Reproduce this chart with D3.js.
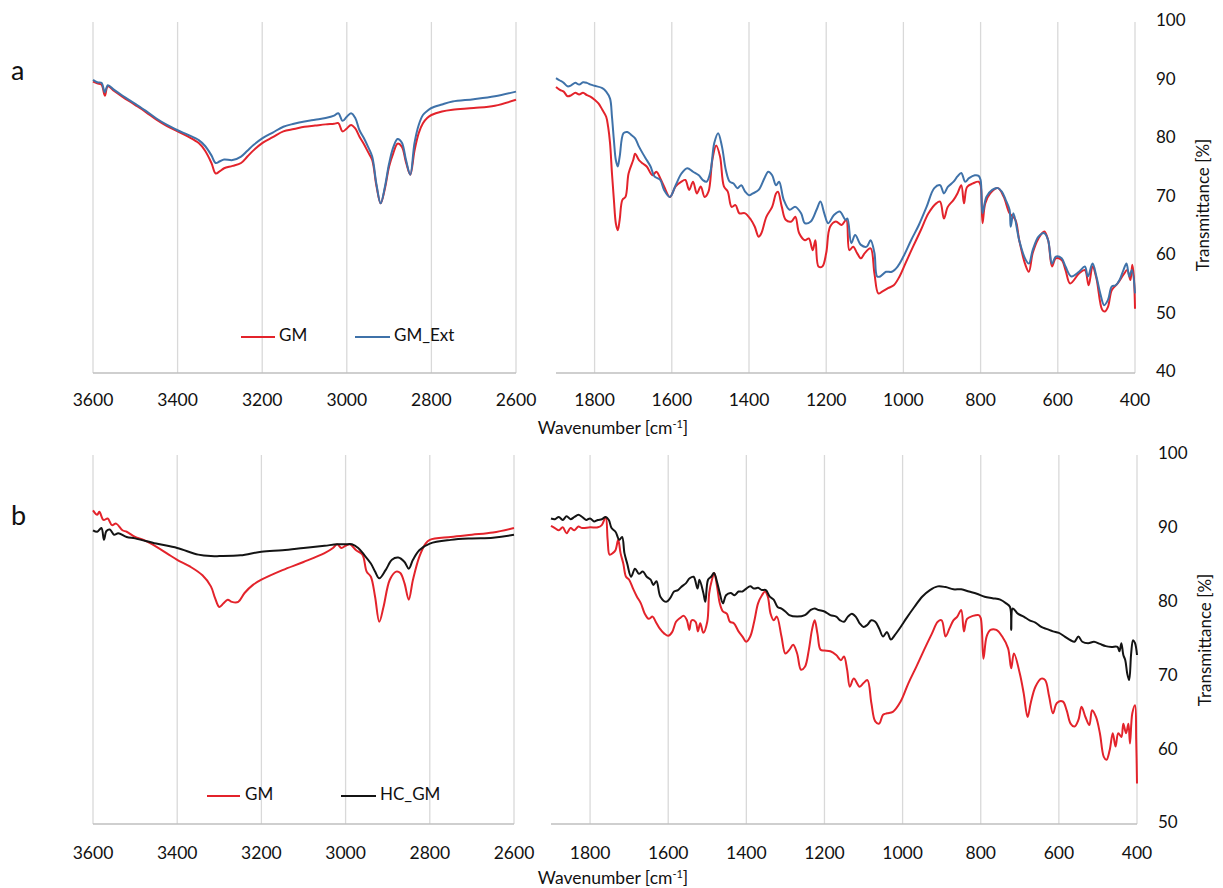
<!DOCTYPE html>
<html>
<head>
<meta charset="utf-8">
<script src="https://cdn.jsdelivr.net/npm/d3@7"></script>
<style>
  body { margin: 0; background: #fff; }
  svg text { font-family: Lato, "Open Sans", sans-serif; fill: #111; }
</style>
</head>
<body>
<svg id="chart" width="1223" height="888"></svg>
<script>
// ---- FTIR spectra: [wavenumber (cm-1), transmittance (%)] ----

// Panel a: GM vs GM_Ext, 3600-2600 region
const aGM_high = [[3600,89.8],[3590,89.5],[3580,89.3],[3572,87.4],[3565,89.0],[3550,88.2],[3530,87.2],[3500,85.8],[3475,84.6],[3450,83.3],[3425,82.2],[3400,81.3],[3375,80.4],[3350,79.3],[3335,78.0],[3320,75.9],[3310,74.1],[3300,74.5],[3290,75.0],[3270,75.4],[3250,75.9],[3235,77.0],[3220,78.1],[3200,79.3],[3175,80.3],[3150,81.3],[3125,81.7],[3100,82.1],[3075,82.3],[3050,82.5],[3030,82.6],[3020,82.7],[3010,81.3],[3000,81.8],[2990,82.4],[2980,81.8],[2970,80.4],[2960,79.2],[2950,77.8],[2940,76.4],[2930,72.0],[2920,69.0],[2910,71.5],[2900,75.3],[2890,77.6],[2880,79.2],[2870,78.7],[2860,76.0],[2850,73.9],[2840,78.0],[2830,81.0],[2820,82.7],[2810,83.6],[2800,84.1],[2775,84.7],[2750,85.0],[2700,85.3],[2650,85.7],[2600,86.7]];
const aExt_high = [[3600,90.1],[3590,89.7],[3580,89.6],[3572,88.0],[3565,89.2],[3550,88.4],[3530,87.4],[3500,86.0],[3475,84.8],[3450,83.5],[3425,82.4],[3400,81.5],[3375,80.7],[3350,79.8],[3335,78.8],[3320,77.2],[3310,75.9],[3300,76.2],[3290,76.5],[3270,76.4],[3250,77.0],[3235,78.0],[3220,79.0],[3200,80.1],[3175,81.1],[3150,82.1],[3125,82.6],[3100,83.0],[3075,83.3],[3050,83.6],[3030,84.0],[3020,84.4],[3010,83.1],[3000,83.8],[2990,84.4],[2980,83.6],[2970,81.5],[2960,80.2],[2950,78.7],[2940,77.0],[2930,72.3],[2920,69.0],[2910,71.8],[2900,75.8],[2890,78.6],[2880,80.0],[2870,79.4],[2860,76.4],[2850,73.9],[2840,79.3],[2830,82.4],[2820,84.1],[2810,84.8],[2800,85.3],[2775,85.9],[2750,86.4],[2700,86.8],[2650,87.3],[2600,88.1]];

// Panel a: GM vs GM_Ext, 1900-400 fingerprint region
const aGM_low = [[1900,88.9],[1890,88.4],[1880,88.1],[1870,87.3],[1860,87.5],[1850,87.9],[1840,87.6],[1830,87.9],[1820,87.5],[1810,87.2],[1800,86.7],[1790,86.1],[1780,85.0],[1770,83.8],[1765,82.1],[1760,79.3],[1755,74.1],[1750,69.6],[1745,65.6],[1740,64.4],[1735,66.2],[1728,69.6],[1720,70.1],[1712,74.1],[1700,76.4],[1695,77.5],[1685,76.4],[1675,75.8],[1665,75.3],[1650,73.8],[1640,74.4],[1630,73.3],[1620,71.9],[1605,70.1],[1590,71.9],[1575,72.7],[1565,73.0],[1555,71.3],[1545,72.7],[1535,70.7],[1525,71.9],[1515,70.1],[1505,71.0],[1495,76.4],[1485,78.9],[1475,77.0],[1465,71.9],[1455,71.0],[1445,68.4],[1435,68.7],[1425,67.3],[1410,67.3],[1395,66.2],[1385,65.0],[1375,63.3],[1368,63.9],[1355,66.7],[1340,68.4],[1330,70.7],[1325,71.0],[1315,68.4],[1305,66.2],[1290,65.9],[1280,66.7],[1270,63.9],[1255,62.7],[1245,63.0],[1235,61.0],[1228,62.7],[1220,58.2],[1210,58.2],[1200,60.5],[1190,65.0],[1175,65.9],[1160,65.3],[1148,66.2],[1140,61.0],[1130,61.6],[1120,60.5],[1110,59.6],[1100,60.5],[1085,61.3],[1075,57.0],[1065,53.6],[1055,53.9],[1040,54.5],[1025,55.0],[1010,56.5],[995,58.7],[975,61.6],[955,64.4],[935,67.3],[915,69.0],[905,69.3],[895,66.4],[885,68.4],[870,69.6],[860,70.7],[850,72.1],[843,69.0],[835,71.8],[820,72.4],[805,72.7],[800,72.1],[795,65.6],[788,69.0],[775,70.7],[755,71.6],[740,70.1],[725,67.3],[710,66.2],[700,62.7],[685,58.7],[675,57.3],[665,60.5],[650,63.0],[635,64.2],[625,62.7],[615,58.2],[605,59.6],[590,59.3],[580,57.6],[568,55.3],[545,57.0],[530,57.6],[520,55.0],[510,58.2],[500,56.2],[485,50.8],[478,50.5],[470,51.3],[460,54.2],[445,55.3],[430,56.8],[420,57.6],[412,55.9],[407,58.5],[403,56.5],[400,51.0]];
const aExt_low = [[1900,90.4],[1890,90.0],[1880,89.6],[1870,89.0],[1860,89.2],[1850,89.6],[1840,89.3],[1830,89.7],[1820,89.6],[1810,89.3],[1800,89.1],[1780,88.7],[1770,88.1],[1760,86.9],[1755,83.8],[1750,79.8],[1745,76.4],[1740,75.3],[1735,77.0],[1725,81.0],[1715,81.2],[1705,80.7],[1695,80.1],[1685,78.7],[1675,77.5],[1665,76.4],[1655,75.3],[1645,73.6],[1630,73.0],[1620,71.3],[1605,70.1],[1590,72.1],[1575,74.1],[1560,75.0],[1545,74.4],[1530,73.8],[1520,73.0],[1510,72.7],[1500,74.4],[1490,79.3],[1480,81.0],[1470,78.7],[1460,74.7],[1450,72.7],[1440,72.4],[1430,71.6],[1420,72.1],[1410,71.0],[1400,70.4],[1390,70.7],[1375,71.3],[1360,73.3],[1350,74.4],[1340,73.8],[1330,72.1],[1322,72.7],[1310,69.6],[1295,67.9],[1280,68.4],[1265,67.3],[1255,65.6],[1240,65.9],[1225,67.9],[1215,69.3],[1205,67.3],[1195,65.6],[1180,67.0],[1165,67.6],[1150,66.2],[1145,66.4],[1135,62.2],[1125,63.6],[1110,61.9],[1095,61.6],[1085,62.7],[1075,60.5],[1068,56.5],[1060,56.5],[1045,57.3],[1030,57.3],[1015,58.2],[1000,59.9],[980,62.7],[960,65.3],[940,68.4],[920,71.6],[905,72.1],[895,70.7],[885,71.8],[870,72.7],[860,73.6],[850,74.2],[840,72.7],[830,73.3],[815,73.8],[805,73.7],[800,73.0],[795,67.3],[785,70.1],[770,71.3],[755,71.6],[745,71.0],[735,69.6],[725,67.9],[722,65.0],[715,67.3],[700,62.7],[685,59.6],[675,58.7],[665,61.0],[650,63.3],[635,63.9],[625,62.7],[615,58.7],[605,59.9],[590,59.6],[580,58.2],[565,56.5],[545,57.3],[530,58.2],[522,56.5],[510,58.7],[500,56.5],[490,53.6],[480,51.6],[470,52.5],[460,54.8],[450,55.0],[440,55.9],[430,57.6],[422,58.7],[415,56.5],[408,57.6],[400,53.6]];

// Panel b: GM vs HC_GM, 3600-2600 region
const bGM_high = [[3600,92.5],[3590,91.9],[3585,92.3],[3575,91.2],[3565,91.4],[3555,90.5],[3545,90.7],[3530,89.8],[3520,89.6],[3500,88.9],[3480,88.5],[3450,87.6],[3420,86.5],[3400,85.8],[3370,84.9],[3340,83.7],[3320,82.2],[3310,80.6],[3300,79.4],[3290,79.9],[3280,80.4],[3270,80.1],[3255,80.1],[3240,81.3],[3220,82.4],[3200,83.1],[3150,84.4],[3100,85.5],[3050,86.7],[3030,87.4],[3020,87.9],[3010,87.4],[3000,87.7],[2990,87.9],[2975,87.1],[2960,86.5],[2950,84.2],[2940,83.5],[2930,80.8],[2920,77.4],[2910,79.4],[2895,83.1],[2880,84.2],[2870,84.0],[2860,82.6],[2850,80.4],[2840,83.1],[2825,86.2],[2810,88.0],[2800,88.5],[2750,88.9],[2700,89.2],[2650,89.5],[2600,90.1]];
const bHC_high = [[3600,89.8],[3590,89.6],[3580,90.1],[3574,88.5],[3568,89.7],[3560,89.9],[3550,89.2],[3540,89.4],[3520,88.9],[3500,88.7],[3450,88.0],[3400,87.4],[3350,86.5],[3320,86.3],[3300,86.3],[3250,86.4],[3200,86.9],[3150,87.1],[3100,87.4],[3050,87.7],[3020,87.9],[3000,87.9],[2985,87.9],[2970,87.4],[2955,86.4],[2940,85.3],[2930,84.2],[2920,83.3],[2905,84.4],[2890,85.8],[2875,86.1],[2860,85.5],[2850,84.6],[2840,85.8],[2825,87.1],[2800,88.0],[2750,88.5],[2700,88.7],[2650,88.8],[2600,89.2]];

// Panel b: GM vs HC_GM, 1900-400 fingerprint region
const bGM_low = [[1900,90.4],[1890,90.1],[1880,89.8],[1870,90.2],[1860,89.4],[1850,90.1],[1840,89.8],[1830,90.3],[1820,90.1],[1800,90.2],[1780,90.2],[1770,90.5],[1760,91.6],[1755,88.5],[1750,86.5],[1742,86.7],[1735,87.1],[1728,88.5],[1722,86.7],[1715,85.3],[1708,83.5],[1700,83.1],[1690,81.9],[1680,80.8],[1670,79.9],[1660,78.5],[1650,77.8],[1640,78.1],[1632,77.4],[1622,76.5],[1610,75.8],[1600,75.5],[1590,76.0],[1580,77.4],[1570,77.9],[1560,78.2],[1552,77.6],[1546,76.3],[1540,77.6],[1530,77.4],[1524,76.1],[1518,77.2],[1510,75.9],[1500,77.4],[1495,81.3],[1488,83.1],[1482,84.0],[1475,82.2],[1468,79.9],[1460,78.8],[1450,78.5],[1442,77.4],[1432,77.2],[1420,76.1],[1410,75.4],[1400,74.7],[1390,75.4],[1380,77.4],[1370,79.9],[1360,81.0],[1352,81.5],[1345,80.8],[1338,78.5],[1330,77.6],[1322,78.1],[1310,75.4],[1300,73.1],[1290,73.6],[1280,74.3],[1270,73.1],[1260,70.9],[1250,71.3],[1240,73.6],[1232,76.3],[1225,77.6],[1218,75.8],[1210,73.6],[1200,73.5],[1185,73.4],[1170,72.9],[1158,72.2],[1150,72.7],[1142,70.9],[1135,68.6],[1125,69.7],[1110,68.6],[1100,69.1],[1090,69.5],[1080,66.4],[1070,63.9],[1060,63.6],[1050,64.8],[1040,65.0],[1025,65.2],[1005,66.6],[985,69.1],[965,71.3],[945,73.6],[925,75.8],[910,77.4],[900,77.6],[890,75.4],[880,76.5],[870,77.6],[860,78.1],[850,79.0],[843,76.1],[835,77.8],[820,78.2],[805,78.3],[800,77.9],[793,72.4],[785,75.4],[775,76.3],[760,76.3],[745,75.4],[730,73.8],[722,71.1],[715,73.1],[700,70.4],[690,67.7],[680,64.5],[672,66.4],[660,68.6],[645,69.7],[635,69.5],[625,67.3],[615,65.0],[605,66.4],[590,66.6],[580,65.4],[570,63.6],[560,63.2],[550,64.1],[542,65.9],[532,64.5],[522,63.4],[515,65.4],[505,64.5],[495,62.3],[485,59.1],[478,58.7],[470,60.0],[462,62.3],[455,60.5],[448,62.3],[440,61.8],[435,63.6],[428,62.3],[422,63.6],[418,60.9],[412,65.0],[405,66.1],[402,61.4],[400,55.5]];
const bHC_low = [[1900,91.4],[1890,91.3],[1880,91.6],[1870,91.2],[1860,91.7],[1850,91.3],[1840,91.6],[1830,91.9],[1820,91.6],[1810,91.2],[1800,91.4],[1790,91.0],[1780,91.2],[1770,91.3],[1760,91.6],[1752,91.2],[1745,90.1],[1735,89.6],[1725,88.5],[1718,88.9],[1712,86.7],[1705,85.3],[1695,83.5],[1685,84.6],[1675,83.9],[1665,84.2],[1655,83.5],[1645,83.1],[1638,82.4],[1630,82.9],[1620,80.8],[1605,80.1],[1595,80.6],[1585,81.5],[1575,81.7],[1565,82.2],[1555,82.6],[1545,83.3],[1535,83.5],[1525,81.9],[1520,83.1],[1510,81.3],[1505,80.1],[1498,83.1],[1490,83.5],[1483,84.0],[1475,82.8],[1468,81.3],[1460,79.9],[1452,81.0],[1440,81.3],[1430,81.0],[1420,81.5],[1410,81.5],[1400,81.9],[1390,82.2],[1380,81.9],[1370,82.0],[1360,81.7],[1350,81.7],[1340,80.8],[1330,80.4],[1320,79.4],[1310,79.2],[1300,78.8],[1290,78.3],[1270,78.1],[1250,78.3],[1235,79.0],[1225,79.2],[1215,79.0],[1200,78.8],[1185,78.3],[1170,78.1],[1160,77.6],[1150,77.4],[1140,78.1],[1130,78.5],[1120,78.1],[1110,77.2],[1100,76.7],[1090,77.0],[1080,77.6],[1070,77.4],[1060,76.5],[1050,75.4],[1040,76.0],[1030,75.0],[1020,75.6],[1005,76.7],[990,77.9],[970,79.4],[950,80.8],[930,81.7],[910,82.2],[890,82.1],[870,81.8],[850,81.8],[830,81.5],[810,81.2],[790,80.8],[770,80.6],[750,80.4],[735,79.9],[725,79.4],[722,76.3],[718,79.2],[705,78.5],[690,78.1],[675,77.6],[660,77.3],[645,76.7],[630,76.4],[615,76.1],[600,75.9],[585,75.4],[570,74.9],[560,74.7],[550,75.4],[540,74.7],[525,74.5],[510,74.7],[495,74.4],[480,74.1],[465,74.0],[450,74.0],[445,73.4],[440,74.5],[435,72.9],[430,72.2],[425,70.4],[420,69.5],[415,73.1],[410,74.9],[405,74.5],[400,72.9]];

// Axis ticks
const highTicks = [3600, 3400, 3200, 3000, 2800, 2600];
const lowTicks = [1800, 1600, 1400, 1200, 1000, 800, 600, 400];
const aYTicks = [40, 50, 60, 70, 80, 90, 100];
const bYTicks = [50, 60, 70, 80, 90, 100];

const RED = "#e3232b", BLUE = "#3f72a9", BLACK = "#141414";

const panels = [
  {
    label: "a", labelY: 80,
    top: 22, bottom: 373, yDomain: [40, 100], yTicks: aYTicks,
    left: [93, 516], right: [556, 1135],
    tickY: 406, titleY: 434, yTitleY: 205,
    series: [
      { name: "GM", color: RED, high: aGM_high, low: aGM_low },
      { name: "GM_Ext", color: BLUE, high: aExt_high, low: aExt_low }
    ],
    legend: { y: 337, items: [ { x0: 241, x1: 275, tx: 279 }, { x0: 355, x1: 390, tx: 394 } ] }
  },
  {
    label: "b", labelY: 525,
    top: 455, bottom: 824, yDomain: [50, 100], yTicks: bYTicks,
    left: [93, 514], right: [551, 1137],
    tickY: 859, titleY: 884, yTitleY: 640,
    series: [
      { name: "GM", color: RED, high: bGM_high, low: bGM_low },
      { name: "HC_GM", color: BLACK, high: bHC_high, low: bHC_low }
    ],
    legend: { y: 796, items: [ { x0: 207, x1: 240, tx: 245 }, { x0: 341, x1: 376, tx: 380 } ] }
  }
];

const svg = d3.select("#chart");

panels.forEach(p => {
  const g = svg.append("g");
  const y = d3.scaleLinear().domain(p.yDomain).range([p.bottom, p.top]);
  const xHigh = d3.scaleLinear().domain([3600, 2600]).range(p.left);
  const xLow = d3.scaleLinear().domain([1900, 400]).range(p.right);

  // vertical gridlines
  const grid = g.append("g");
  [[xHigh, highTicks], [xLow, lowTicks]].forEach(([x, ticks]) => {
    grid.selectAll(null).data(ticks).enter().append("line")
      .attr("x1", d => x(d)).attr("x2", d => x(d))
      .attr("y1", p.top).attr("y2", p.bottom)
      .attr("stroke", "#d9d9d9").attr("stroke-width", 1.3);
  });

  // bottom axis lines
  [xHigh, xLow].forEach(x => {
    g.append("line")
      .attr("x1", x.range()[0]).attr("x2", x.range()[1])
      .attr("y1", p.bottom).attr("y2", p.bottom)
      .attr("stroke", "#bfbfbf").attr("stroke-width", 1.5);
  });

  // x tick labels
  [[xHigh, highTicks], [xLow, lowTicks]].forEach(([x, ticks]) => {
    g.selectAll(null).data(ticks).enter().append("text")
      .attr("x", d => x(d)).attr("y", p.tickY)
      .attr("text-anchor", "middle").attr("font-size", 17.5)
      .text(d => d);
  });

  // x axis title with superscript
  const xt = g.append("text")
    .attr("x", 613).attr("y", p.titleY)
    .attr("text-anchor", "middle").attr("font-size", 17.5);
  xt.append("tspan").text("Wavenumber [cm");
  xt.append("tspan").attr("dy", -6).attr("font-size", 11).text("-1");
  xt.append("tspan").attr("dy", 6).text("]");

  // right-hand y axis labels
  const yAxisX = p.right[1];
  g.selectAll(null).data(p.yTicks).enter().append("text")
    .attr("x", yAxisX + 21).attr("y", d => y(d))
    .attr("dominant-baseline", "middle").attr("font-size", 17)
    .text(d => d);

  g.append("text")
    .attr("transform", `translate(${yAxisX + 74},${p.yTitleY}) rotate(-90)`)
    .attr("text-anchor", "middle").attr("font-size", 17)
    .text("Transmittance [%]");

  // panel label
  g.append("text").attr("x", 11).attr("y", p.labelY)
    .attr("font-size", 27).text(p.label);

  // spectra
  p.series.forEach(s => {
    [[xHigh, s.high], [xLow, s.low]].forEach(([x, data]) => {
      const line = d3.line()
        .x(d => x(d[0])).y(d => y(d[1]))
        .curve(d3.curveCatmullRom.alpha(0.5));
      g.append("path").datum(data)
        .attr("d", line)
        .attr("fill", "none")
        .attr("stroke", s.color)
        .attr("stroke-width", 2)
        .attr("stroke-linejoin", "round");
    });
  });

  // legend
  const lg = g.append("g");
  p.series.forEach((s, i) => {
    const it = p.legend.items[i];
    lg.append("line")
      .attr("x1", it.x0).attr("x2", it.x1)
      .attr("y1", p.legend.y).attr("y2", p.legend.y)
      .attr("stroke", s.color).attr("stroke-width", 2);
    lg.append("text")
      .attr("x", it.tx).attr("y", p.legend.y)
      .attr("dominant-baseline", "middle").attr("font-size", 17)
      .text(s.name);
  });
});
</script>
</body>
</html>
